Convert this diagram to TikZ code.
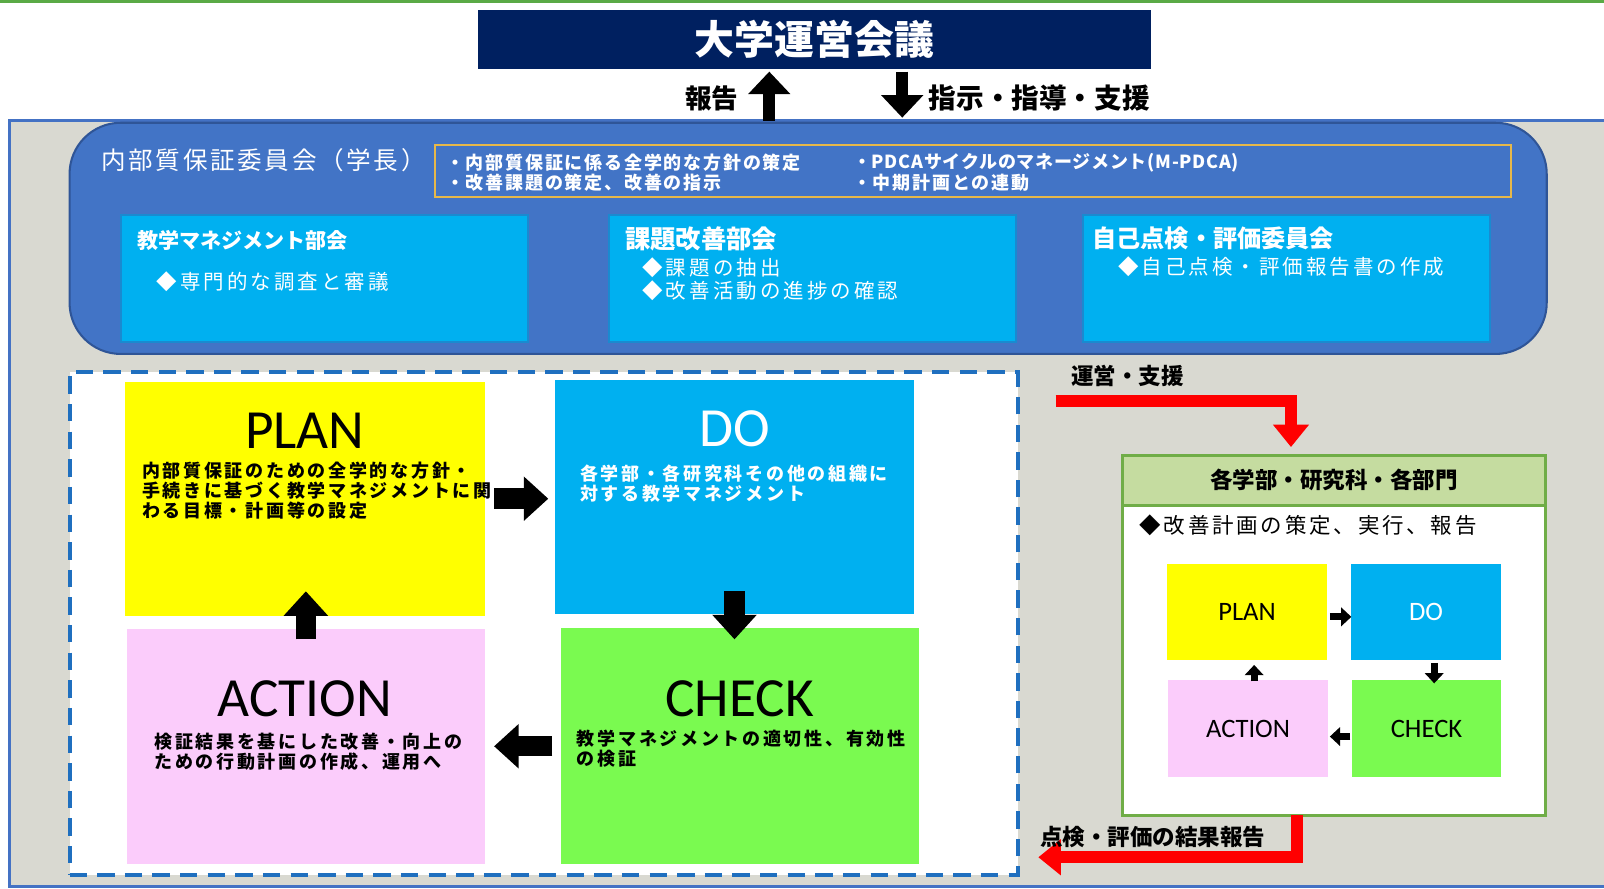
\documentclass[tikz,border=0pt]{standalone}
\usepackage{fontspec}
\setmainfont{Carlito}
\newfontfamily\jp{Noto Sans CJK JP}
\usetikzlibrary{arrows.meta,calc}
\definecolor{navy}{HTML}{002060}
\definecolor{topgreen}{HTML}{5AAA46}
\definecolor{panelgray}{HTML}{D9D9D1}
\definecolor{panelblue}{HTML}{4472C4}
\definecolor{midblue}{HTML}{4274C6}
\definecolor{darkblue}{HTML}{2F5597}
\definecolor{gold}{HTML}{E6B84A}
\definecolor{cyanbox}{HTML}{00B0F0}
\definecolor{cyanborder}{HTML}{1A8AD0}
\definecolor{dashblue}{HTML}{1F6FBF}
\definecolor{pyellow}{HTML}{FFFF00}
\definecolor{pcyan}{HTML}{00B0F0}
\definecolor{ppink}{HTML}{FBCCFB}
\definecolor{pgreen}{HTML}{7AFA50}
\definecolor{ugreen}{HTML}{70AD47}
\definecolor{uhead}{HTML}{C5DCA0}
\definecolor{rred}{HTML}{FF0000}
\lineskiplimit=-5pt
\begin{document}
\begin{tikzpicture}[x=0.5pt,y=-0.5pt,
  every node/.style={inner sep=0pt,outer sep=0pt},
  wtitle/.style={anchor=west,text=white,font=\jp\bfseries\fontsize{10.3}{10.3}\selectfont},
  witem/.style={anchor=west,text=white,font=\jp\fontsize{10}{10}\selectfont\addfontfeatures{LetterSpace=15}},
  ptxt/.style={anchor=west,align=left,font=\jp\bfseries\fontsize{8.8}{9.75}\selectfont\addfontfeatures{LetterSpace=15}},
  gtxt/.style={anchor=west,text=white,font=\jp\bfseries\fontsize{8.8}{8.8}\selectfont\addfontfeatures{LetterSpace=10}},
  lbox/.style={fill=cyanbox,draw=cyanborder,line width=1pt,minimum width=199pt,minimum height=62pt},
  pbox/.style={minimum width=175pt,minimum height=115pt},
  biglbl/.style={font=\fontsize{27}{27}\selectfont},
  sbox/.style={minimum width=77pt,minimum height=47pt,font=\fontsize{13}{13}\selectfont},
  bigarrow/.style={draw=black,line width=10pt,-{Triangle[length=12pt,width=21pt]}},
  toparrow/.style={draw=black,line width=6pt,-{Triangle[length=11pt,width=20pt]}},
  smallarrow/.style={draw=black,line width=3.5pt,-{Triangle[length=5pt,width=9pt]}},
  redarrow/.style={draw=rred,line width=6pt,-{Triangle[length=11pt,width=17pt]}},
  lbl/.style={font=\jp\bfseries\fontsize{11}{11}\selectfont}
]
\lineskiplimit=-5pt
\clip (0,0) rectangle (1568,869);
\useasboundingbox (0,0) rectangle (1568,869);
\fill[white] (0,0) rectangle (1568,869);
\fill[topgreen] (0,0) rectangle (1568,3);

% top box
\node[fill=navy,text=white,minimum width=329pt,minimum height=28.5pt,
  font=\jp\bfseries\fontsize{19.5}{19.5}\selectfont] (top) at (796,38.5) {大学運営会議};

% outer panel
\node[fill=panelgray,draw=panelblue,line width=1.5pt,minimum width=785.5pt,minimum height=374.5pt] (outer) at (794.5,492.5) {};

% arrows to top
\draw[toparrow,shorten >=1.5pt] ([xshift=-22pt]top.south |- outer.north) -- ([xshift=-22pt]top.south);
\draw[toparrow,shorten <=1.5pt,shorten >=1.5pt] ([xshift=43pt]top.south) -- ([xshift=43pt]top.south |- outer.north);
\node[anchor=east,font=\jp\bfseries\fontsize{13}{13}\selectfont] (hokoku) at (722,96) {報告};
\node[anchor=west,font=\jp\bfseries\fontsize{13.5}{13.5}\selectfont] (shiji) at (908,96) {指示・指導・支援};

% committee panel
\node[fill=midblue,draw=darkblue,line width=1pt,rounded corners=25pt,minimum width=722pt,minimum height=113pt] (committee) at (790,233) {};
\node[anchor=west,text=white,font=\jp\fontsize{12}{12}\selectfont\addfontfeatures{LetterSpace=11}] (ctitle) at (99,157) {内部質保証委員会（学長）};
\node[draw=gold,line width=1pt,minimum width=526pt,minimum height=25.5pt] (policy) at (951,167.5) {};
\node[gtxt] (g1) at (436,159) {・内部質保証に係る全学的な方針の策定};
\node[gtxt] (g2) at (436,179) {・改善課題の策定、改善の指示};
\node[gtxt,font=\jp\bfseries\fontsize{8.8}{8.8}\selectfont\addfontfeatures{LetterSpace=4}] (g3) at (834,159) {・PDCAサイクルのマネージメント(M-PDCA)};
\node[gtxt] (g4) at (834,179) {・中期計画との連動};

\node[lbox] (b1) at (317,272) {};
\node[lbox] (b2) at (794,272) {};
\node[lbox] (b3) at (1258,272) {};
\node[wtitle] (t1) at (134,235) {教学マネジメント部会};
\node[witem] (i1) at (153,275) {◆専門的な調査と審議};
\node[wtitle,font=\jp\bfseries\fontsize{12.4}{12.4}\selectfont] (t2) at (611,234) {課題改善部会};
\node[witem] (i2a) at (628,262) {◆課題の抽出};
\node[witem] (i2b) at (628,284) {◆改善活動の進捗の確認};
\node[wtitle,font=\jp\bfseries\fontsize{11.8}{11.8}\selectfont] (t3) at (1068,233) {自己点検・評価委員会};
\node[witem] (i3) at (1093,261) {◆自己点検・評価報告書の作成};

% PDCA cycle
\node[fill=white,draw=dashblue,line width=2pt,dash pattern=on 8.5pt off 5pt,minimum width=463.5pt,minimum height=245.5pt] (cycle) at (531.5,609.5) {};
\node[pbox,fill=pyellow,minimum width=176pt,minimum height=114.5pt] (plan) at (298,487.5) {};
\node[pbox,fill=pcyan,minimum height=114.5pt] (do) at (718,485.5) {};
\node[pbox,fill=ppink] (action) at (299,730) {};
\node[pbox,fill=pgreen,minimum height=115.5pt] (check) at (723,729.5) {};
\node[biglbl] (planl) at (298,421) {PLAN};
\node[biglbl,text=white] (dol) at (718,419) {DO};
\node[biglbl] (actionl) at (298,683) {ACTION};
\node[biglbl] (checkl) at (723,683) {CHECK};
\node[ptxt] (plant) at (139,480) {内部質保証のための全学的な方針・\\手続きに基づく教学マネジメントに関\\わる目標・計画等の設定};
\node[ptxt,text=white] (dot) at (567,473) {各学部・各研究科その他の組織に\\対する教学マネジメント};
\node[ptxt] (actiont) at (151,735) {検証結果を基にした改善・向上の\\ための行動計画の作成、運用へ};
\node[ptxt] (checkt) at (564,732) {教学マネジメントの適切性、有効性\\の検証};

\draw[bigarrow,shorten <=4.5pt,shorten >=3.5pt] (plan.east) -- (plan.east -| do.west);
\draw[bigarrow,shorten <=-11pt,shorten >=-5.5pt] (do.south) -- (do.south |- check.north);
\draw[bigarrow,shorten <=4pt,shorten >=4.5pt] (check.west) -- (check.west -| action.east);
\draw[bigarrow,shorten <=-5pt,shorten >=-12pt] (action.north) -- (action.north |- plan.south);

% right unit
\node[lbl] (unei) at (1102,367) {運営・支援};
\coordinate (rstart) at (1032,392);
\node[fill=white,draw=ugreen,line width=1.5pt,minimum width=207pt,minimum height=176pt] (unit) at (1304,621) {};
\node[fill=uhead,draw=ugreen,line width=1.5pt,minimum width=207pt,minimum height=24.5pt,
  font=\jp\bfseries\fontsize{11}{11}\selectfont] (uhead) at (1304,469.5) {各学部・研究科・各部門};
\node[anchor=west,font=\jp\fontsize{10.5}{10.5}\selectfont\addfontfeatures{LetterSpace=13}] (ubody) at (1114,514) {◆改善計画の策定、実行、報告};
\draw[redarrow,shorten >=4pt] (rstart) -| ([xshift=-21pt]unit.north);

\node[sbox,fill=pyellow,minimum width=78pt] (sp) at (1219,598) {PLAN};
\node[sbox,fill=pcyan,text=white,minimum width=73pt] (sd) at (1394,598) {DO};
\node[sbox,fill=ppink,minimum width=78pt,minimum height=47.5pt] (sa) at (1220,712.5) {ACTION};
\node[sbox,fill=pgreen,minimum width=72.5pt,minimum height=47.5pt] (sc) at (1394.5,712.5) {CHECK};
\draw[smallarrow,shorten <=1.5pt] ([yshift=-2.5pt]sp.east) -- ([yshift=-2.5pt]sp.east -| sd.west);
\draw[smallarrow,shorten <=1.5pt,shorten >=-1.5pt] ([xshift=4pt]sd.south) -- ([xshift=4pt]sd.south |- sc.north);
\draw[smallarrow,shorten <=1pt,shorten >=1pt] ([yshift=-3.75pt]sc.west) -- ([yshift=-3.75pt]sc.west -| sa.east);
\draw[smallarrow,shorten <=-0.5pt,shorten >=2.5pt] ([xshift=3pt]sa.north) -- ([xshift=3pt]sa.north |- sp.south);

\coordinate (rend) at (1015,838);
\draw[redarrow] ([xshift=-18pt]unit.south) |- (rend);
\node[lbl] (kekka) at (1127,818) {点検・評価の結果報告};
\end{tikzpicture}
\end{document}
